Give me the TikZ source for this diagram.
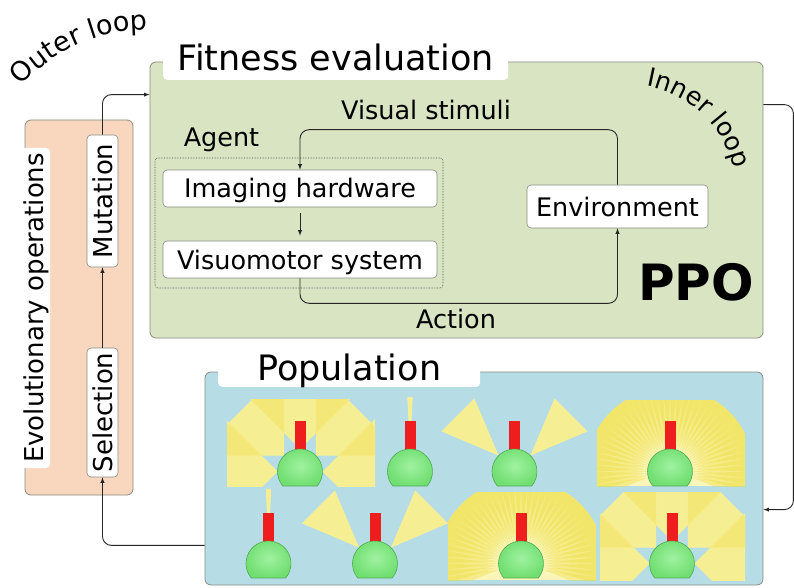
\documentclass[tikz,border=0pt]{standalone}
\usepackage{fontspec}
\setmainfont{DejaVu Sans}
\usetikzlibrary{calc,decorations.text}

\definecolor{fitcol}{RGB}{217,228,195}
\definecolor{evocol}{RGB}{249,214,190}
\definecolor{popcol}{RGB}{182,220,230}
\definecolor{framecol}{RGB}{135,140,130}
\definecolor{rodcol}{RGB}{238,30,30}
\definecolor{ballcol}{RGB}{112,222,112}
\definecolor{ballhi}{RGB}{160,242,160}
\definecolor{ballline}{RGB}{80,170,80}
\definecolor{beampale}{RGB}{250,245,185}
\definecolor{beamshade}{RGB}{238,220,50}

\newcommand{\bodyfont}{\fontsize{25.5}{30}\selectfont}
\newcommand{\loopfont}{\fontsize{27}{30}\selectfont}
\newcommand{\sidefont}{\fontsize{26}{30}\selectfont}
\newcommand{\titlefont}{\fontsize{35}{40}\selectfont}
\newcommand{\ppofont}{\fontsize{50}{60}\selectfont\bfseries}

% one robot: camera rod and body, #1 = centre of the body
\newcommand{\robot}[1]{%
  \fill[rodcol] ($(#1)+(-5.5,21.5)$) rectangle ($(#1)+(5.5,50.5)$);
  \path[draw=ballline, line width=0.6pt, inner color=ballhi, outer color=ballcol]
    ($(#1)+(-40:22.5)$) arc[start angle=-40, end angle=220, radius=22.5] -- cycle;
}
% view cones: #1 centre, #2 directions, #3 half angle, #4 side length
\newcommand{\beams}[4]{%
  \foreach \ang in {#2}
    \fill[beampale] ($(#1)+(\ang:22.5)$) -- +({\ang+#3}:#4) -- +({\ang-#3}:#4) -- cycle;
  \foreach \ang in {#2}
    \fill[beamshade, fill opacity=0.28] ($(#1)+(\ang:22.5)$) -- +({\ang+#3}:#4) -- +({\ang-#3}:#4) -- cycle;
}
% dense fan of rays, clipped to a dome; #1 centre, #2 lower left, #3 upper right
\newcommand{\fan}[3]{%
  \begin{scope}
    \clip (#2) rectangle (#3);
    \clip (#1) circle[radius=84];
    \fill[beampale] (#2) rectangle (#3);
    \foreach \ang in {-15,-10,...,195}
      \fill[beamshade, fill opacity=0.35] ($(#1)+(\ang:22.5)$) -- +({\ang+7}:80) -- +({\ang-7}:80) -- cycle;
  \end{scope}
}

\begin{document}
\begin{tikzpicture}[x=1pt, y=1pt,
    panel/.style={draw=framecol, rounded corners=6pt, line width=0.8pt, inner sep=0pt},
    tab/.style={fill=white, rounded corners=4pt, inner sep=0pt, font=\titlefont},
    stepbox/.style={draw=framecol, fill=white, rounded corners=4pt, line width=0.6pt, inner sep=0pt,
      font=\bodyfont, text height=28pt, text depth=9pt},
    opbox/.style={stepbox, rotate=90, font=\sidefont, text height=25pt, text depth=6pt},
    lbl/.style={font=\bodyfont, anchor=base, inner sep=0pt},
    link/.style={draw=black!85, line width=0.9pt, -latex, rounded corners=9pt}]

    \useasboundingbox[fill=white] (0,0) rectangle (794,587);

    % outer loop
    \path[decorate, decoration={text along path, text={|\loopfont|Outer loop}, text align=left}]
        (147.3,387.2) ++(138:170) arc[start angle=138, end angle=84, radius=170];

    \node[panel, fill=evocol, minimum width=108pt, minimum height=375pt] (evo) at (79,279.5) {};
    \node[tab, rotate=90, font=\sidefont, minimum width=320pt, text height=23pt, text depth=7pt] (evotab) at (35,279) {Evolutionary operations};
    \node[opbox, minimum width=132pt] (mut) at (102.5,386) {Mutation};
    \node[opbox, minimum width=129pt] (sel) at (102.5,174.5) {Selection};

    % fitness evaluation, inner loop
    \node[panel, fill=fitcol, minimum width=613pt, minimum height=276pt] (fitbox) at (456.5,387) {};
    \node[tab, anchor=south west, minimum width=345pt, text height=28pt, text depth=9pt] (fittab) at (163,507) {Fitness evaluation};
    \path[decorate, decoration={text along path, text={|\bodyfont|Inner loop}, text align=left}]
        (626.9,392.7) ++(80:110) arc[start angle=80, end angle=0, radius=110];

    \node[draw=black!70, densely dotted, rounded corners=3pt, line width=0.6pt, minimum width=288pt, minimum height=130pt] (agent) at (299,364) {};
    \node[lbl] (agentlbl) at (221.5,440) {Agent};
    \node[stepbox, minimum width=274pt, minimum height=37pt] (img) at (300,398.5) {Imaging hardware};
    \node[stepbox, minimum width=274pt, minimum height=37pt] (vis) at (300,327.5) {Visuomotor system};
    \node[stepbox, minimum width=181pt, minimum height=43pt, text height=32pt, text depth=11pt] (env) at (617.5,380.5) {Environment};
    \node[lbl] (stim) at (426,467) {Visual stimuli};
    \node[lbl] (act) at (456,259) {Action};
    \node[lbl, font=\ppofont] (ppo) at (696,287) {PPO};

    % population
    \node[panel, fill=popcol, minimum width=558pt, minimum height=213pt] (popbox) at (484,108.5) {};
    \node[tab, anchor=south west, minimum width=262pt, text height=28pt, text depth=6pt] (poptab) at (218,200) {Population};

    % top row
    \begin{scope}
        \clip (227,101) rectangle (375,188);
        \beams{300,115.5}{0,45,90,135,180}{45}{88}
    \end{scope}
    \robot{300,115.5}
    \beams{410,115.5}{90}{3}{52}
    \robot{410,115.5}
    \beams{514.5,115.5}{45,135}{22}{62}
    \robot{514.5,115.5}
    \fan{670,115.5}{597,101}{745,187}
    \robot{670,115.5}

    % bottom row
    \beams{268.5,23.5}{90}{3}{52}
    \robot{268.5,23.5}
    \beams{375,23.5}{45,135}{22}{62}
    \robot{375,23.5}
    \fan{521,23.5}{448,7}{596,95}
    \robot{521,23.5}
    \begin{scope}
        \clip (600,7) rectangle (745,95);
        \beams{672,23.5}{0,45,90,135,180}{45}{88}
    \end{scope}
    \robot{672,23.5}

    % connectors
    \draw[link] (sel) -- (mut);
    \draw[link] (mut.east) |- ($(fitbox.north west)+(0,-33)$);
    \draw[link] ($(fitbox.north east)+(0,-43)$) -- ++(30,0) |- ($(popbox.north east)+(0,-138)$);
    \draw[link] ($(popbox.south west)+(0,40)$) -| (sel.west);
    \draw[link] (env.north) -- ++(0,55) -| (img.north);
    \draw[link] (vis.south) -- ++(0,-25) -| (env.south);
    \draw[link, shorten <=6pt, shorten >=5pt] (img) -- (vis);
\end{tikzpicture}
\end{document}
